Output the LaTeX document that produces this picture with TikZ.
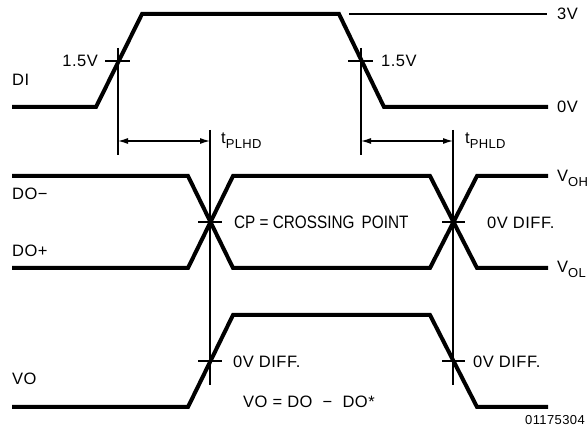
\documentclass[tikz,border=0pt]{standalone}
\usepackage{fontspec}
\setmainfont[LetterSpace=3]{Liberation Sans}
\newfontfamily\cpfont[FakeStretch=0.85]{Liberation Sans}
\usetikzlibrary{arrows.meta}
\newcommand{\subtxt}[2]{#1\raisebox{-5pt}{\fontsize{13}{15}\selectfont #2}}
\begin{document}
\begin{tikzpicture}[x=1pt,y=-1pt,
  sig/.style={line width=4pt, line join=miter},
  thin/.style={line width=1.2pt},
  dim/.style={line width=1.2pt, {Latex[length=10pt,width=6pt]}-{Latex[length=10pt,width=6pt]}},
  lbl/.style={inner sep=0pt, font=\fontsize{16.5}{19}\selectfont},
  cplbl/.style={inner sep=0pt, font=\cpfont\fontsize{18}{21}\selectfont},
  small/.style={inner sep=0pt, font=\fontsize{13}{15}\selectfont}]
\useasboundingbox[fill=white] (0,0) rectangle (587,435);
% DI signal
\coordinate (di0) at (12,107); \coordinate (di1) at (96,107);
\coordinate (di2) at (142,14); \coordinate (di3) at (339,14);
\coordinate (di4) at (384,107); \coordinate (di5) at (548,107);
\draw[sig] (di0) -- (di1) -- (di2) -- (di3) -- (di4) -- (di5);
\coordinate (v3a) at (349,14); \coordinate (v3b) at (547,14);
\draw[thin] (v3a) -- (v3b);
% DO- and DO+
\coordinate (dm0) at (12,176); \coordinate (dm1) at (188,176);
\coordinate (dm2) at (233,268); \coordinate (dm3) at (430,268);
\coordinate (dm4) at (477,176); \coordinate (dm5) at (548,176);
\draw[sig] (dm0) -- (dm1) -- (dm2) -- (dm3) -- (dm4) -- (dm5);
\coordinate (dp0) at (12,268); \coordinate (dp1) at (188,268);
\coordinate (dp2) at (233,176); \coordinate (dp3) at (430,176);
\coordinate (dp4) at (477,268); \coordinate (dp5) at (548,268);
\draw[sig] (dp0) -- (dp1) -- (dp2) -- (dp3) -- (dp4) -- (dp5);
% VO
\coordinate (vo0) at (12,407); \coordinate (vo1) at (188,407);
\coordinate (vo2) at (233,315); \coordinate (vo3) at (430,315);
\coordinate (vo4) at (477,407); \coordinate (vo5) at (548,407);
\draw[sig] (vo0) -- (vo1) -- (vo2) -- (vo3) -- (vo4) -- (vo5);
% reference verticals
\coordinate (l1t) at (118,48); \coordinate (l1b) at (118,155);
\coordinate (l2t) at (361,48); \coordinate (l2b) at (361,155);
\coordinate (l3t) at (210,130); \coordinate (l3b) at (210,385);
\coordinate (l4t) at (453,130); \coordinate (l4b) at (453,385);
\draw[thin] (l1t) -- (l1b);
\draw[thin] (l2t) -- (l2b);
\draw[thin] (l3t) -- (l3b);
\draw[thin] (l4t) -- (l4b);
% ticks
\coordinate (t1a) at (105,61); \coordinate (t1b) at (130,61);
\coordinate (t2a) at (348,61); \coordinate (t2b) at (373,61);
\coordinate (t3a) at (198,222); \coordinate (t3b) at (222,222);
\coordinate (t4a) at (442,222); \coordinate (t4b) at (465,222);
\coordinate (t5a) at (198,361); \coordinate (t5b) at (222,361);
\coordinate (t6a) at (442,361); \coordinate (t6b) at (465,361);
\draw[thin] (t1a) -- (t1b);
\draw[thin] (t2a) -- (t2b);
\draw[thin] (t3a) -- (t3b);
\draw[thin] (t4a) -- (t4b);
\draw[thin] (t5a) -- (t5b);
\draw[thin] (t6a) -- (t6b);
% dimension arrows
\coordinate (a1a) at (118,141); \coordinate (a1b) at (210,141);
\coordinate (a2a) at (361,141); \coordinate (a2b) at (453,141);
\draw[dim] (a1a) -- (a1b);
\draw[dim] (a2a) -- (a2b);
% labels
\node[lbl, anchor=base west] (lDI) at (12,86) {DI};
\node[lbl, anchor=base east] (l15a) at (98,67) {1.5V};
\node[lbl, anchor=base west] (l15b) at (381,67) {1.5V};
\node[lbl, anchor=base west] (l3V) at (557,20) {3V};
\node[lbl, anchor=base west] (l0V) at (557,113) {0V};
\node[lbl, anchor=base west] (ltp1) at (221,144) {\subtxt{t}{PLHD}};
\node[lbl, anchor=base west] (ltp2) at (465,144) {\subtxt{t}{PHLD}};
\node[lbl, anchor=base west] (lDOm) at (12,200) {DO−};
\node[lbl, anchor=base west] (lDOp) at (12,257) {DO+};
\node[cplbl, anchor=base west] (lCP) at (234,229) {CP = CROSSING\, POINT};
\node[lbl, anchor=base west] (lD1) at (487,229) {0V DIFF.};
\node[lbl, anchor=base west] (lVOH) at (557,182) {\subtxt{V}{OH}};
\node[lbl, anchor=base west] (lVOL) at (557,273) {\subtxt{V}{OL}};
\node[lbl, anchor=base west] (lVO) at (12,385) {VO};
\node[lbl, anchor=base west] (lD2) at (233,368) {0V DIFF.};
\node[lbl, anchor=base west] (lD3) at (473,368) {0V DIFF.};
\node[lbl, anchor=base west] (lEq) at (243,408) {VO\ =\ DO\ \ −\ \ DO*};
\node[small, anchor=base east] (lid) at (585,425) {01175304};
\end{tikzpicture}
\end{document}
